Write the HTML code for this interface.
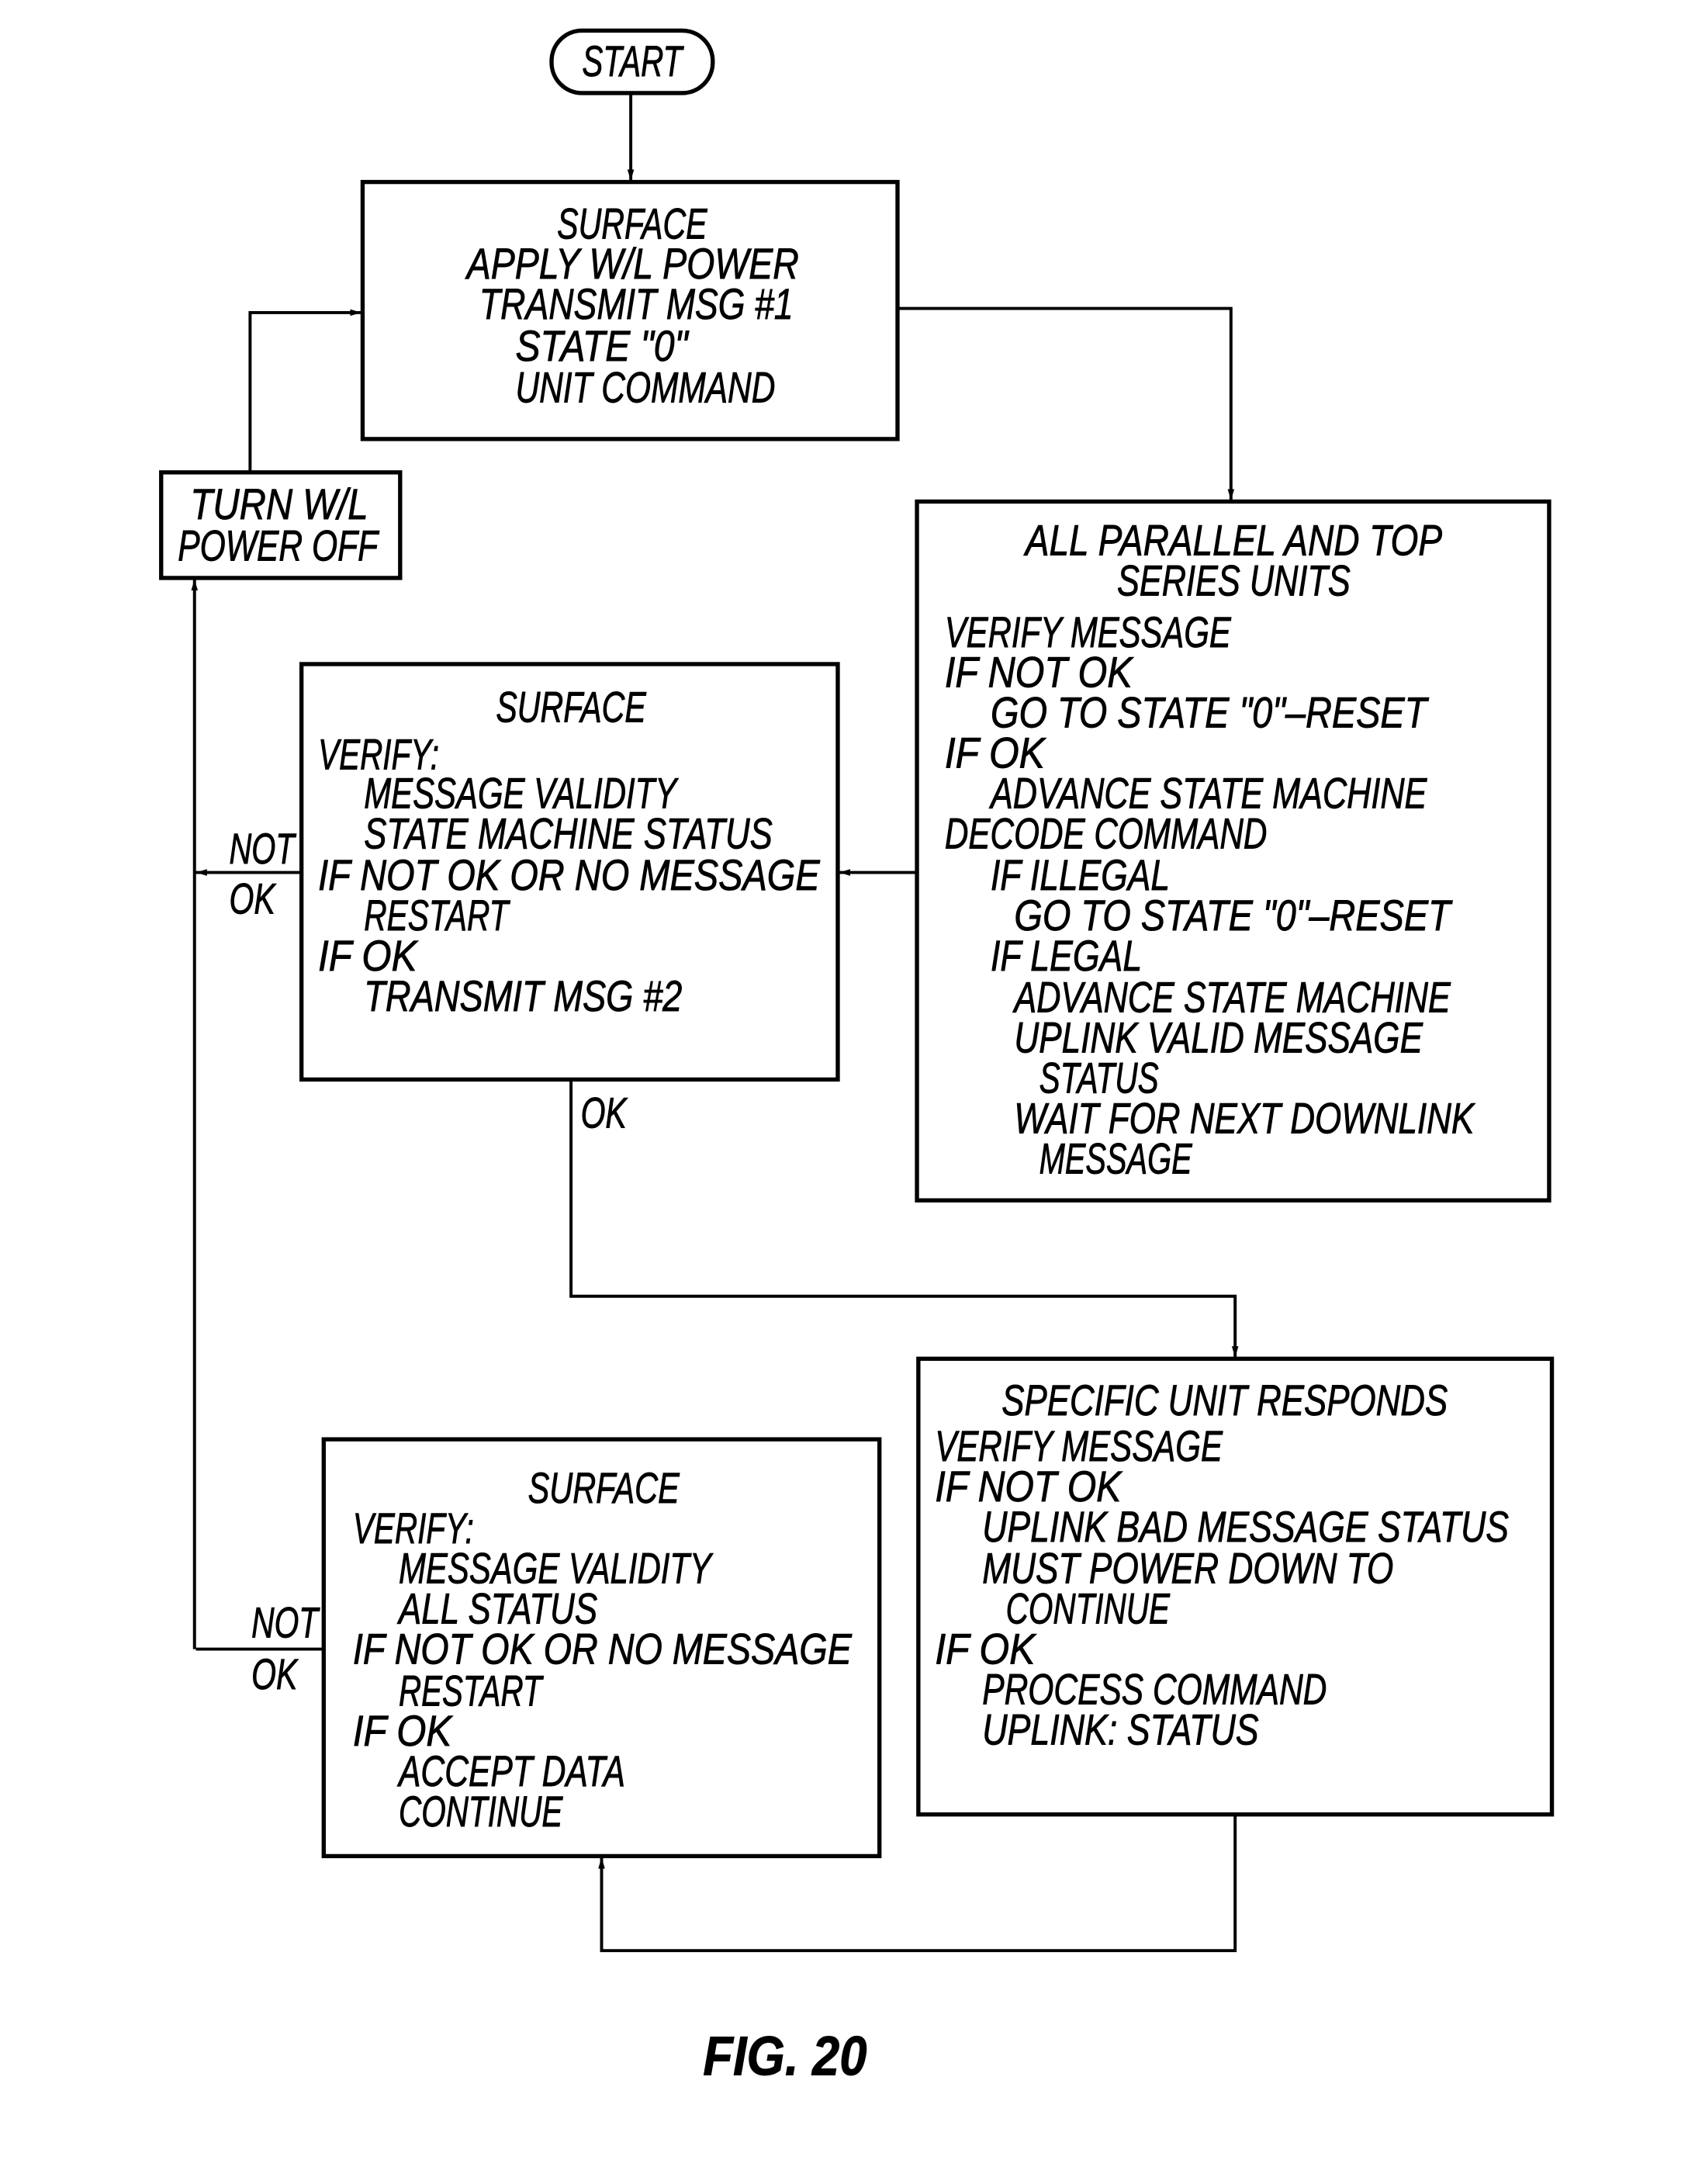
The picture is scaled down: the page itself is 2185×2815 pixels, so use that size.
<!DOCTYPE html>
<html><head><meta charset="utf-8"><style>
html,body{margin:0;padding:0;background:#fff;}
svg{display:block;}
text{font-family:"Liberation Sans Narrow","Liberation Sans",sans-serif;font-style:italic;font-size:31px;fill:#000;stroke:#000;stroke-width:0.5;dominant-baseline:central;}
</style></head><body>
<svg width="2185" height="2815" viewBox="0 0 1220 1572" preserveAspectRatio="none" xmlns="http://www.w3.org/2000/svg">
<defs><marker id="a" viewBox="0 0 10 10" refX="10" refY="5" markerWidth="8" markerHeight="8" markerUnits="userSpaceOnUse" orient="auto"><path d="M0,2 L10,5 L0,8 z" fill="#000"/></marker></defs>
<g fill="none" stroke="#000" stroke-width="3">
<rect x="397" y="22" width="116" height="45" rx="22"/>
<rect x="261" y="131" width="385" height="185"/>
<rect x="116" y="340" width="172" height="76"/>
<rect x="660" y="361" width="455" height="503"/>
<rect x="217" y="478" width="386" height="299"/>
<rect x="661" y="978" width="456" height="328"/>
<rect x="233" y="1036" width="400" height="300"/>
</g>
<g fill="none" stroke="#000" stroke-width="2.2">
<path d="M454 67 V130" marker-end="url(#a)"/>
<path d="M646 222 H886 V360" marker-end="url(#a)"/>
<path d="M180 340 V225 H260" marker-end="url(#a)"/>
<path d="M660 628 H604" marker-end="url(#a)"/>
<path d="M217 628 H141" marker-end="url(#a)"/>
<path d="M140 1187 V417" marker-end="url(#a)"/>
<path d="M411 777 V933 H889 V977" marker-end="url(#a)"/>
<path d="M889 1306 V1404 H433 V1337" marker-end="url(#a)"/>
<path d="M233 1187 H141"/>
</g>
<text x="419" y="44" textLength="72" lengthAdjust="spacingAndGlyphs">START</text>
<text x="401" y="161" textLength="108" lengthAdjust="spacingAndGlyphs">SURFACE</text>
<text x="336" y="190" textLength="239" lengthAdjust="spacingAndGlyphs">APPLY W/L POWER</text>
<text x="345" y="219" textLength="226" lengthAdjust="spacingAndGlyphs">TRANSMIT MSG #1</text>
<text x="371" y="249" textLength="124" lengthAdjust="spacingAndGlyphs">STATE "0"</text>
<text x="371" y="279" textLength="187" lengthAdjust="spacingAndGlyphs">UNIT COMMAND</text>
<text x="137" y="363" textLength="128" lengthAdjust="spacingAndGlyphs">TURN W/L</text>
<text x="128" y="393" textLength="144" lengthAdjust="spacingAndGlyphs">POWER OFF</text>
<text x="738" y="389" textLength="300" lengthAdjust="spacingAndGlyphs">ALL PARALLEL AND TOP</text>
<text x="804" y="418" textLength="168" lengthAdjust="spacingAndGlyphs">SERIES UNITS</text>
<text x="680" y="455" textLength="206" lengthAdjust="spacingAndGlyphs">VERIFY MESSAGE</text>
<text x="680" y="484" textLength="135" lengthAdjust="spacingAndGlyphs">IF NOT OK</text>
<text x="713" y="513" textLength="314" lengthAdjust="spacingAndGlyphs">GO TO STATE "0"–RESET</text>
<text x="680" y="542" textLength="72" lengthAdjust="spacingAndGlyphs">IF OK</text>
<text x="713" y="571" textLength="314" lengthAdjust="spacingAndGlyphs">ADVANCE STATE MACHINE</text>
<text x="680" y="600" textLength="232" lengthAdjust="spacingAndGlyphs">DECODE COMMAND</text>
<text x="713" y="630" textLength="129" lengthAdjust="spacingAndGlyphs">IF ILLEGAL</text>
<text x="730" y="659" textLength="314" lengthAdjust="spacingAndGlyphs">GO TO STATE "0"–RESET</text>
<text x="713" y="688" textLength="109" lengthAdjust="spacingAndGlyphs">IF LEGAL</text>
<text x="730" y="718" textLength="314" lengthAdjust="spacingAndGlyphs">ADVANCE STATE MACHINE</text>
<text x="730" y="747" textLength="294" lengthAdjust="spacingAndGlyphs">UPLINK VALID MESSAGE</text>
<text x="748" y="776" textLength="86" lengthAdjust="spacingAndGlyphs">STATUS</text>
<text x="730" y="805" textLength="331" lengthAdjust="spacingAndGlyphs">WAIT FOR NEXT DOWNLINK</text>
<text x="748" y="834" textLength="110" lengthAdjust="spacingAndGlyphs">MESSAGE</text>
<text x="357" y="509" textLength="108" lengthAdjust="spacingAndGlyphs">SURFACE</text>
<text x="229" y="543" textLength="87" lengthAdjust="spacingAndGlyphs">VERIFY:</text>
<text x="262" y="571" textLength="225" lengthAdjust="spacingAndGlyphs">MESSAGE VALIDITY</text>
<text x="262" y="600" textLength="294" lengthAdjust="spacingAndGlyphs">STATE MACHINE STATUS</text>
<text x="229" y="630" textLength="361" lengthAdjust="spacingAndGlyphs">IF NOT OK OR NO MESSAGE</text>
<text x="262" y="659" textLength="104" lengthAdjust="spacingAndGlyphs">RESTART</text>
<text x="229" y="688" textLength="71" lengthAdjust="spacingAndGlyphs">IF OK</text>
<text x="262" y="717" textLength="229" lengthAdjust="spacingAndGlyphs">TRANSMIT MSG #2</text>
<text x="165" y="611" textLength="47" lengthAdjust="spacingAndGlyphs">NOT</text>
<text x="165" y="647" textLength="33" lengthAdjust="spacingAndGlyphs">OK</text>
<text x="418" y="801" textLength="33" lengthAdjust="spacingAndGlyphs">OK</text>
<text x="721" y="1008" textLength="321" lengthAdjust="spacingAndGlyphs">SPECIFIC UNIT RESPONDS</text>
<text x="673" y="1041" textLength="207" lengthAdjust="spacingAndGlyphs">VERIFY MESSAGE</text>
<text x="673" y="1070" textLength="134" lengthAdjust="spacingAndGlyphs">IF NOT OK</text>
<text x="707" y="1099" textLength="379" lengthAdjust="spacingAndGlyphs">UPLINK BAD MESSAGE STATUS</text>
<text x="707" y="1129" textLength="296" lengthAdjust="spacingAndGlyphs">MUST POWER DOWN TO</text>
<text x="724" y="1158" textLength="118" lengthAdjust="spacingAndGlyphs">CONTINUE</text>
<text x="673" y="1187" textLength="72" lengthAdjust="spacingAndGlyphs">IF OK</text>
<text x="707" y="1216" textLength="248" lengthAdjust="spacingAndGlyphs">PROCESS COMMAND</text>
<text x="707" y="1245" textLength="199" lengthAdjust="spacingAndGlyphs">UPLINK: STATUS</text>
<text x="380" y="1071" textLength="109" lengthAdjust="spacingAndGlyphs">SURFACE</text>
<text x="254" y="1100" textLength="87" lengthAdjust="spacingAndGlyphs">VERIFY:</text>
<text x="287" y="1129" textLength="225" lengthAdjust="spacingAndGlyphs">MESSAGE VALIDITY</text>
<text x="287" y="1158" textLength="143" lengthAdjust="spacingAndGlyphs">ALL STATUS</text>
<text x="254" y="1187" textLength="359" lengthAdjust="spacingAndGlyphs">IF NOT OK OR NO MESSAGE</text>
<text x="287" y="1217" textLength="103" lengthAdjust="spacingAndGlyphs">RESTART</text>
<text x="254" y="1246" textLength="71" lengthAdjust="spacingAndGlyphs">IF OK</text>
<text x="287" y="1275" textLength="163" lengthAdjust="spacingAndGlyphs">ACCEPT DATA</text>
<text x="287" y="1304" textLength="118" lengthAdjust="spacingAndGlyphs">CONTINUE</text>
<text x="181" y="1168" textLength="48" lengthAdjust="spacingAndGlyphs">NOT</text>
<text x="181" y="1205" textLength="33" lengthAdjust="spacingAndGlyphs">OK</text>
<text x="506" y="1480" textLength="118" lengthAdjust="spacingAndGlyphs" style="font-size:40px;font-weight:bold">FIG. 20</text>
</svg>
</body></html>
